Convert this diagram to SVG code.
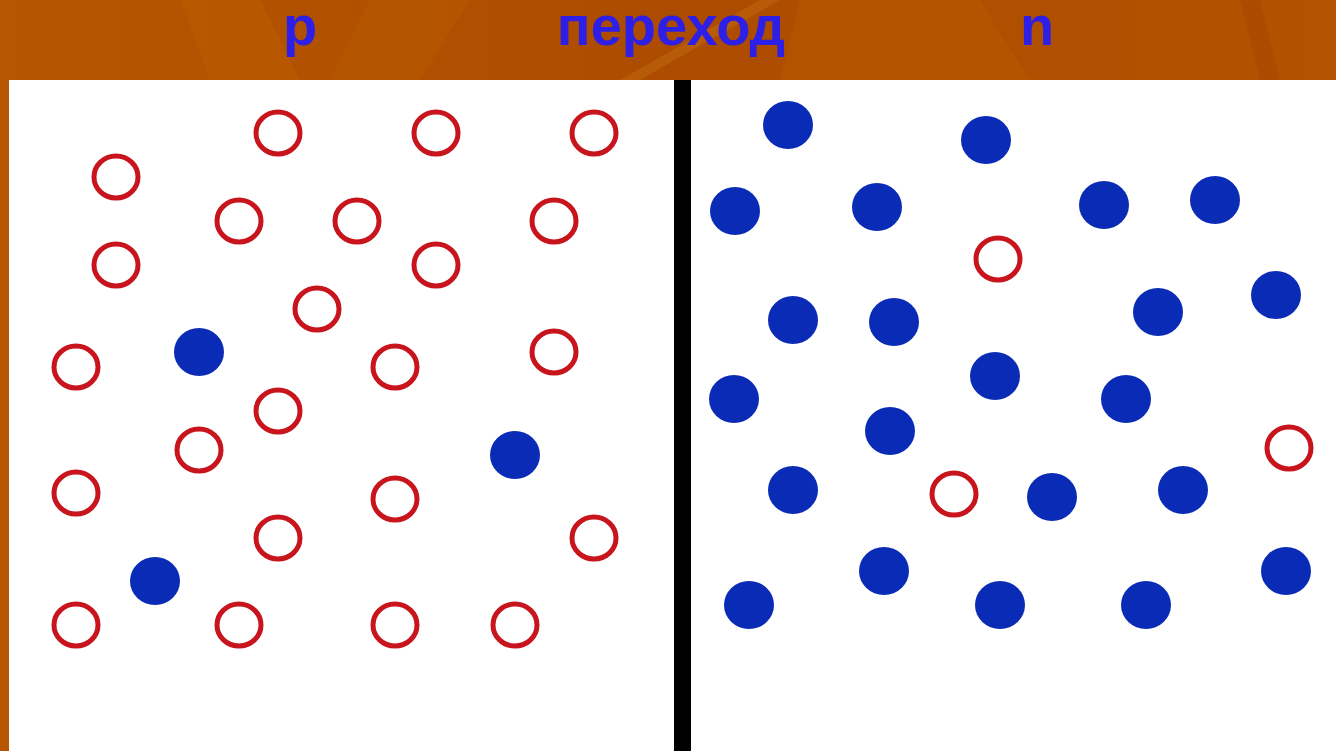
<svg xmlns="http://www.w3.org/2000/svg" width="1336" height="751" viewBox="0 0 1336 751">
  <defs>
    <linearGradient id="bg" x1="0" y1="0" x2="1" y2="0">
      <stop offset="0" stop-color="#b65600"/>
      <stop offset="0.5" stop-color="#ad4c00"/>
      <stop offset="1" stop-color="#b35200"/>
    </linearGradient>
  </defs>
  <style>
    .hole { fill: none; stroke: #c8141c; stroke-width: 5; }
    .elec { fill: #0a2bb5; }
    .lbl { font-family: "Liberation Sans", Arial, sans-serif; font-weight: bold; font-size: 56px; fill: #2d1fe6; text-anchor: middle; }
  </style>
  <g id="background">
    <rect x="0" y="0" width="1336" height="751" fill="url(#bg)"/>
    <path d="M180 0 L260 0 L300 80 L210 80 Z" fill="#bb5e00" opacity="0.5"/>
    <path d="M370 0 L470 0 L420 80 L330 80 Z" fill="#b85a00" opacity="0.5"/>
    <path d="M620 80 L760 0 L780 0 L640 80 Z" fill="#c06a10" opacity="0.5"/>
    <path d="M780 80 L800 0 L980 0 L1030 80 Z" fill="#b85600" opacity="0.6"/>
    <path d="M1240 0 L1260 0 L1280 80 L1260 80 Z" fill="#a84800" opacity="0.6"/>
    <rect x="9" y="80" width="1327" height="671" fill="#ffffff"/>
    <rect x="674" y="80" width="17" height="671" fill="#000000"/>
  </g>
  <g id="labels">
    <text class="lbl" x="300" y="45">p</text>
    <text class="lbl" x="671" y="45">переход</text>
    <text class="lbl" x="1037" y="45">n</text>
  </g>
  <g id="p-region">
    <ellipse class="hole" cx="278" cy="133" rx="22" ry="21"/>
    <ellipse class="hole" cx="436" cy="133" rx="22" ry="21"/>
    <ellipse class="hole" cx="594" cy="133" rx="22" ry="21"/>
    <ellipse class="hole" cx="116" cy="177" rx="22" ry="21"/>
    <ellipse class="hole" cx="239" cy="221" rx="22" ry="21"/>
    <ellipse class="hole" cx="357" cy="221" rx="22" ry="21"/>
    <ellipse class="hole" cx="554" cy="221" rx="22" ry="21"/>
    <ellipse class="hole" cx="116" cy="265" rx="22" ry="21"/>
    <ellipse class="hole" cx="436" cy="265" rx="22" ry="21"/>
    <ellipse class="hole" cx="317" cy="309" rx="22" ry="21"/>
    <ellipse class="hole" cx="76" cy="367" rx="22" ry="21"/>
    <ellipse class="hole" cx="395" cy="367" rx="22" ry="21"/>
    <ellipse class="hole" cx="554" cy="352" rx="22" ry="21"/>
    <ellipse class="hole" cx="278" cy="411" rx="22" ry="21"/>
    <ellipse class="hole" cx="199" cy="450" rx="22" ry="21"/>
    <ellipse class="hole" cx="76" cy="493" rx="22" ry="21"/>
    <ellipse class="hole" cx="395" cy="499" rx="22" ry="21"/>
    <ellipse class="hole" cx="278" cy="538" rx="22" ry="21"/>
    <ellipse class="hole" cx="594" cy="538" rx="22" ry="21"/>
    <ellipse class="hole" cx="76" cy="625" rx="22" ry="21"/>
    <ellipse class="hole" cx="239" cy="625" rx="22" ry="21"/>
    <ellipse class="hole" cx="395" cy="625" rx="22" ry="21"/>
    <ellipse class="hole" cx="515" cy="625" rx="22" ry="21"/>
    <ellipse class="elec" cx="199" cy="352" rx="25" ry="24"/>
    <ellipse class="elec" cx="515" cy="455" rx="25" ry="24"/>
    <ellipse class="elec" cx="155" cy="581" rx="25" ry="24"/>
  </g>
  <g id="n-region">
    <ellipse class="elec" cx="788" cy="125" rx="25" ry="24"/>
    <ellipse class="elec" cx="986" cy="140" rx="25" ry="24"/>
    <ellipse class="elec" cx="735" cy="211" rx="25" ry="24"/>
    <ellipse class="elec" cx="877" cy="207" rx="25" ry="24"/>
    <ellipse class="elec" cx="1104" cy="205" rx="25" ry="24"/>
    <ellipse class="elec" cx="1215" cy="200" rx="25" ry="24"/>
    <ellipse class="elec" cx="793" cy="320" rx="25" ry="24"/>
    <ellipse class="elec" cx="894" cy="322" rx="25" ry="24"/>
    <ellipse class="elec" cx="1158" cy="312" rx="25" ry="24"/>
    <ellipse class="elec" cx="1276" cy="295" rx="25" ry="24"/>
    <ellipse class="elec" cx="734" cy="399" rx="25" ry="24"/>
    <ellipse class="elec" cx="995" cy="376" rx="25" ry="24"/>
    <ellipse class="elec" cx="1126" cy="399" rx="25" ry="24"/>
    <ellipse class="elec" cx="890" cy="431" rx="25" ry="24"/>
    <ellipse class="elec" cx="793" cy="490" rx="25" ry="24"/>
    <ellipse class="elec" cx="1052" cy="497" rx="25" ry="24"/>
    <ellipse class="elec" cx="1183" cy="490" rx="25" ry="24"/>
    <ellipse class="elec" cx="884" cy="571" rx="25" ry="24"/>
    <ellipse class="elec" cx="1286" cy="571" rx="25" ry="24"/>
    <ellipse class="elec" cx="749" cy="605" rx="25" ry="24"/>
    <ellipse class="elec" cx="1000" cy="605" rx="25" ry="24"/>
    <ellipse class="elec" cx="1146" cy="605" rx="25" ry="24"/>
    <ellipse class="hole" cx="998" cy="259" rx="22" ry="21"/>
    <ellipse class="hole" cx="1289" cy="448" rx="22" ry="21"/>
    <ellipse class="hole" cx="954" cy="494" rx="22" ry="21"/>
  </g>
</svg>
